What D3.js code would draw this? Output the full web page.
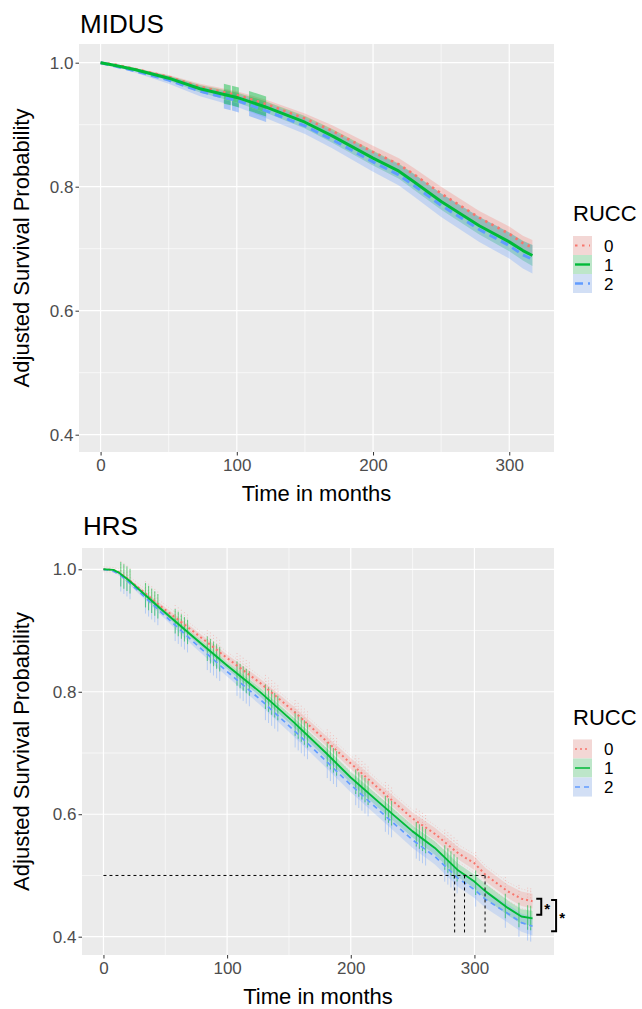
<!DOCTYPE html>
<html>
<head>
<meta charset="utf-8">
<script src="https://cdn.jsdelivr.net/npm/d3@7"></script>
<style>
  body { margin: 0; background: #fff; }
  text { font-family: "Liberation Sans", Arial, sans-serif; }
</style>
</head>
<body>
<svg width="642" height="1009"></svg>
<script>
// ---- data ----
var groups = ["0", "1", "2"];
var colors = ["#F8766D", "#00BA38", "#619CFF"];
var yTicks = [0.4, 0.6, 0.8, 1.0];
var yMinor = [0.5, 0.7, 0.9];
var xTicks = [0, 100, 200, 300];
var xMinor = [50, 150, 250];

// MIDUS adjusted survival, per RUCC group
var midusTime = [0, 10, 25, 50, 73, 100, 122, 150, 170, 200, 219, 230, 250, 278, 300, 310, 317];
var midus0 = [1.0, 0.997, 0.990, 0.977, 0.961, 0.948, 0.933, 0.910, 0.890, 0.856, 0.836, 0.820, 0.789, 0.750, 0.724, 0.709, 0.702];
var midus1 = [1.0, 0.996, 0.989, 0.975, 0.958, 0.944, 0.928, 0.904, 0.882, 0.846, 0.825, 0.808, 0.776, 0.737, 0.711, 0.697, 0.689];
var midus2 = [1.0, 0.995, 0.987, 0.972, 0.954, 0.939, 0.922, 0.898, 0.876, 0.840, 0.819, 0.802, 0.770, 0.731, 0.705, 0.690, 0.683];
var midusCi0 = [0, 0.001, 0.002, 0.003, 0.005, 0.006, 0.007, 0.008, 0.009, 0.010, 0.010, 0.010, 0.011, 0.011, 0.012, 0.012, 0.012];
var midusCi1 = [0, 0.001, 0.002, 0.004, 0.006, 0.008, 0.009, 0.010, 0.011, 0.012, 0.012, 0.013, 0.013, 0.014, 0.015, 0.016, 0.017];
var midusCi2 = [0, 0.001, 0.003, 0.006, 0.008, 0.010, 0.012, 0.013, 0.014, 0.016, 0.017, 0.018, 0.019, 0.020, 0.021, 0.022, 0.023];
var midusBandStart = [90.5, 96.5, 109];
var midusBandEnd = [95.5, 101.5, 121.5];

// HRS adjusted survival, per RUCC group
var hrsTime = [0, 8, 12, 20, 46, 73, 100, 127, 154, 180, 200, 227, 250, 268, 287, 300, 309, 327, 338, 347];
var hrs0 = [1.0, 0.999, 0.996, 0.984, 0.940, 0.898, 0.855, 0.814, 0.768, 0.720, 0.683, 0.634, 0.593, 0.568, 0.536, 0.520, 0.501, 0.474, 0.462, 0.458];
var hrs1 = [1.0, 0.999, 0.995, 0.983, 0.936, 0.889, 0.843, 0.799, 0.750, 0.700, 0.660, 0.612, 0.572, 0.545, 0.508, 0.490, 0.474, 0.447, 0.433, 0.430];
var hrs2 = [1.0, 0.997, 0.993, 0.980, 0.931, 0.881, 0.833, 0.787, 0.737, 0.687, 0.648, 0.599, 0.558, 0.531, 0.495, 0.477, 0.461, 0.438, 0.423, 0.417];
var hrsCi0 = [0, 0, 0.001, 0.002, 0.004, 0.005, 0.006, 0.007, 0.008, 0.008, 0.009, 0.009, 0.010, 0.010, 0.010, 0.011, 0.011, 0.011, 0.012, 0.012];
var hrsCi1 = [0, 0, 0.001, 0.002, 0.004, 0.005, 0.006, 0.007, 0.008, 0.009, 0.009, 0.010, 0.010, 0.011, 0.011, 0.011, 0.012, 0.012, 0.012, 0.012];
var hrsCi2 = [0, 0.001, 0.002, 0.003, 0.005, 0.007, 0.008, 0.009, 0.010, 0.011, 0.012, 0.012, 0.013, 0.013, 0.014, 0.014, 0.014, 0.015, 0.015, 0.015];
// interview-wave clusters of CI steps
var hrsWaveStart = [14, 34, 58, 84, 108, 131, 155, 181, 204, 228, 253, 276, 301, 325, 336, 343];
var hrsWaveEnd = [22, 46, 70, 95, 119, 143, 167, 189, 214, 235, 261, 287, 303, 327, 337, 347];

// median survival markers and significance brackets (HRS)
var medianLevel = 0.5;
var medianFloor = 0.406;
var medianTimes = [284, 292, 308.6];
var bracketX = [350, 362];
var bracketTop = [0.462, 0.460];
var bracketBottom = [0.436, 0.409];
var bracketLabel = ["*", "*"];

var svg = d3.select("svg");

function panel(o) {
    var x = d3.scaleLinear().domain(o.xDomain).range([o.left, o.right]);
    var y = d3.scaleLinear().domain([0.4, 1.0]).range(o.yRange);
    var g = svg.append("g");

    g.append("rect")
        .attr("x", o.left).attr("y", o.top)
        .attr("width", o.right - o.left).attr("height", o.bottom - o.top)
        .attr("fill", "#EBEBEB");

    // grid
    g.selectAll(".ymin").data(yMinor).enter().append("line")
        .attr("x1", o.left).attr("x2", o.right)
        .attr("y1", function (d) { return y(d) }).attr("y2", function (d) { return y(d) })
        .attr("stroke", "#fff").attr("stroke-width", 0.6);
    g.selectAll(".xmin").data(xMinor).enter().append("line")
        .attr("y1", o.top).attr("y2", o.bottom)
        .attr("x1", function (d) { return x(d) }).attr("x2", function (d) { return x(d) })
        .attr("stroke", "#fff").attr("stroke-width", 0.6);
    g.selectAll(".ymaj").data(yTicks).enter().append("line")
        .attr("x1", o.left).attr("x2", o.right)
        .attr("y1", function (d) { return y(d) }).attr("y2", function (d) { return y(d) })
        .attr("stroke", "#fff").attr("stroke-width", 1.2);
    g.selectAll(".xmaj").data(xTicks).enter().append("line")
        .attr("y1", o.top).attr("y2", o.bottom)
        .attr("x1", function (d) { return x(d) }).attr("x2", function (d) { return x(d) })
        .attr("stroke", "#fff").attr("stroke-width", 1.2);

    // axes
    var ya = g.append("g").attr("transform", "translate(" + o.left + ",0)")
        .call(d3.axisLeft(y).tickValues(yTicks).tickFormat(d3.format(".1f")).tickSize(3.5).tickPadding(2));
    var xa = g.append("g").attr("transform", "translate(0," + o.bottom + ")")
        .call(d3.axisBottom(x).tickValues(xTicks).tickSize(3.5).tickPadding(3));
    [ya, xa].forEach(function (a) {
        a.select(".domain").remove();
        a.selectAll("line").attr("stroke", "#333");
        a.selectAll("text").attr("fill", "#4D4D4D").style("font-size", "17px")
            .style("font-family", "'Liberation Sans', Arial, sans-serif");
    });

    // clip
    svg.append("clipPath").attr("id", "clip-" + o.name).append("rect")
        .attr("x", o.left).attr("y", o.top)
        .attr("width", o.right - o.left).attr("height", o.bottom - o.top);
    var plot = g.append("g").attr("clip-path", "url(#clip-" + o.name + ")");

    var rows = o.series.map(function (s) {
        return o.time.map(function (t, i) { return { t: t, v: s.v[i], ci: s.ci[i] }; });
    });

    var area = d3.area()
        .x(function (d) { return x(d.t) })
        .y0(function (d) { return y(d.v - d.ci) })
        .y1(function (d) { return y(d.v + d.ci) });
    var line = d3.line()
        .x(function (d) { return x(d.t) })
        .y(function (d) { return y(d.v) });

    rows.forEach(function (r, i) {
        plot.append("path").datum(r).attr("d", area)
            .attr("fill", colors[i]).attr("fill-opacity", o.alpha);
    });

    if (o.extra) o.extra(plot, x, y);

    // order: red dotted, blue dashed, green solid on top
    [0, 2, 1].forEach(function (i) {
        plot.append("path").datum(rows[i]).attr("d", line)
            .attr("fill", "none").attr("stroke", colors[i])
            .attr("stroke-width", o.series[i].w)
            .attr("stroke-dasharray", o.series[i].dash)
            .attr("stroke-linejoin", "round");
    });

    // labels
    g.append("text").text(o.title).attr("x", o.left + 1).attr("y", o.titleY)
        .style("font-size", "26px").attr("fill", "#000");
    g.append("text").text("Time in months")
        .attr("x", (o.left + o.right) / 2).attr("y", o.bottom + 49)
        .attr("text-anchor", "middle").style("font-size", "22px");
    g.append("text").text("Adjusted Survival Probability")
        .attr("transform", "translate(29," + ((o.top + o.bottom) / 2) + ") rotate(-90)")
        .attr("text-anchor", "middle").style("font-size", "22px");

    // legend
    var lg = g.append("g").attr("transform", "translate(573," + o.legendY + ")");
    lg.append("text").text("RUCC").attr("x", 0).attr("y", 0).style("font-size", "22px");
    groups.forEach(function (k, i) {
        var ky = 15 + i * 19;
        lg.append("rect").attr("x", 0).attr("y", ky).attr("width", 19).attr("height", 19).attr("fill", "#F2F2F2");
        lg.append("rect").attr("x", 0).attr("y", ky).attr("width", 19).attr("height", 19)
            .attr("fill", colors[i]).attr("fill-opacity", 0.22);
        lg.append("line").attr("x1", 2).attr("x2", 17).attr("y1", ky + 9.5).attr("y2", ky + 9.5)
            .attr("stroke", colors[i]).attr("stroke-width", o.series[i].w * 0.8)
            .attr("stroke-dasharray", o.series[i].dash);
        lg.append("text").text(k).attr("x", 31).attr("y", ky + 9.5).attr("dy", "0.36em")
            .style("font-size", "17px");
    });

    return { x: x, y: y, g: g };
}

// MIDUS panel
panel({
    name: "midus", title: "MIDUS", titleY: 33,
    left: 79, right: 554, top: 44, bottom: 452,
    yRange: [434.7, 62.7], xDomain: [-15.85, 332.85],
    legendY: 221, time: midusTime, alpha: 0.28,
    series: [
        { v: midus0, ci: midusCi0, w: 2.6, dash: "2.5,4.5" },
        { v: midus1, ci: midusCi1, w: 3, dash: null },
        { v: midus2, ci: midusCi2, w: 3, dash: "8,5" }
    ],
    extra: function (plot, x, y) {
        var g1 = d3.scaleLinear().domain(midusTime).range(midus1);
        var g2 = d3.scaleLinear().domain(midusTime).range(midus2);
        midusBandStart.forEach(function (s, i) {
            var pts = [s, midusBandEnd[i]];
            plot.append("path").datum(pts)
                .attr("d", d3.area().x(function (t) { return x(t) })
                    .y0(function (t) { return y(g2(t) - 0.018) })
                    .y1(function (t) { return y(g2(t) - 0.004) }))
                .attr("fill", colors[2]).attr("fill-opacity", 0.5);
            plot.append("path").datum(pts)
                .attr("d", d3.area().x(function (t) { return x(t) })
                    .y0(function (t) { return y(g1(t) - 0.015) })
                    .y1(function (t) { return y(g1(t) + 0.017) }))
                .attr("fill", colors[1]).attr("fill-opacity", 0.45);
        });
    }
});

// HRS panel
var hrs = panel({
    name: "hrs", title: "HRS", titleY: 535,
    left: 82, right: 554, top: 548, bottom: 955,
    yRange: [936.7, 569.3], xDomain: [-17.35, 364.35],
    legendY: 724.5, time: hrsTime, alpha: 0.22,
    series: [
        { v: hrs0, ci: hrsCi0, w: 2, dash: "2,3" },
        { v: hrs1, ci: hrsCi1, w: 1.9, dash: null },
        { v: hrs2, ci: hrsCi2, w: 1.7, dash: "5,4" }
    ],
    extra: function (plot, x, y) {
        var f0 = d3.scaleLinear().domain(hrsTime).range(hrs0);
        var f1 = d3.scaleLinear().domain(hrsTime).range(hrs1);
        var f2 = d3.scaleLinear().domain(hrsTime).range(hrs2);
        // faint dotted CI borders of group 0
        [1, -1].forEach(function (sg) {
            plot.append("path").datum(hrsTime)
                .attr("d", d3.line().x(function (t) { return x(t) })
                    .y(function (t, i) { return y(hrs0[i] + sg * (hrsCi0[i] + 0.004)) }))
                .attr("fill", "none").attr("stroke", colors[0]).attr("stroke-opacity", 0.35)
                .attr("stroke-width", 0.8).attr("stroke-dasharray", "1,2");
        });
        hrsWaveStart.forEach(function (s, i) {
            var e = hrsWaveEnd[i];
            var ts = d3.range(s, e + 0.01, 2.5);
            ts.forEach(function (t) {
                plot.append("line").attr("x1", x(t)).attr("x2", x(t))
                    .attr("y1", y(f0(t) + 0.004)).attr("y2", y(f0(t) + 0.022))
                    .attr("stroke", colors[0]).attr("stroke-opacity", 0.45)
                    .attr("stroke-width", 0.8).attr("stroke-dasharray", "1,2");
                plot.append("line").attr("x1", x(t)).attr("x2", x(t))
                    .attr("y1", y(f2(t) - 0.026)).attr("y2", y(f2(t) - 0.004))
                    .attr("stroke", colors[2]).attr("stroke-opacity", 0.4)
                    .attr("stroke-width", 1);
                plot.append("line").attr("x1", x(t)).attr("x2", x(t))
                    .attr("y1", y(f1(t) - 0.02)).attr("y2", y(f1(t) + 0.02))
                    .attr("stroke", colors[1]).attr("stroke-opacity", 0.55)
                    .attr("stroke-width", 1.1);
            });
        });
    }
});

// median survival guides
var ann = hrs.g.append("g").attr("fill", "none").attr("stroke", "#000")
    .attr("stroke-width", 1).attr("stroke-dasharray", "3,3");
ann.append("line")
    .attr("x1", hrs.x(0)).attr("x2", hrs.x(d3.max(medianTimes)))
    .attr("y1", hrs.y(medianLevel)).attr("y2", hrs.y(medianLevel));
ann.selectAll(".v").data(medianTimes).enter().append("line")
    .attr("x1", function (d) { return hrs.x(d) }).attr("x2", function (d) { return hrs.x(d) })
    .attr("y1", hrs.y(medianLevel)).attr("y2", hrs.y(medianFloor));

// significance brackets
bracketX.forEach(function (bx, i) {
    var x0 = hrs.x(bx), x1 = x0 + 5;
    var yt = hrs.y(bracketTop[i]), yb = hrs.y(bracketBottom[i]);
    hrs.g.append("path")
        .attr("d", "M" + x0 + "," + yt + "H" + x1 + "V" + yb + "H" + x0)
        .attr("fill", "none").attr("stroke", "#000").attr("stroke-width", 2);
    hrs.g.append("text").text(bracketLabel[i])
        .attr("x", x1 + 6).attr("y", (yt + yb) / 2 + 7)
        .attr("text-anchor", "middle").style("font-size", "15px").style("font-weight", "bold");
});
</script>
</body>
</html>
